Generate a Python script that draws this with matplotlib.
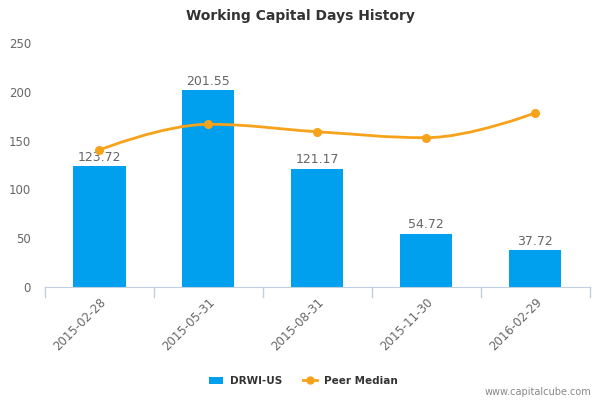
import matplotlib
matplotlib.use("Agg")
import matplotlib.pyplot as plt
from matplotlib.path import Path
from matplotlib.patches import PathPatch
from matplotlib.lines import Line2D
from matplotlib.patches import Patch

categories = ["2015-02-28", "2015-05-31", "2015-08-31", "2015-11-30", "2016-02-29"]
drwi_values = [123.72, 201.55, 121.17, 54.72, 37.72]
peer_median = [140.4, 166.7, 159.1, 153.0, 178.3]
yticks = [0, 50, 100, 150, 200, 250]

bar_color = "#00A0EE"
line_color = "#F7A21B"
text_grey = "#666666"

fig = plt.figure(figsize=(6, 4), dpi=100)
ax = fig.add_axes([0.075, 0.2825, 0.9075, 0.61])

x = list(range(len(categories)))
ax.bar(x, drwi_values, width=0.48, color=bar_color, zorder=2)
for xi, v in zip(x, drwi_values):
    ax.text(xi, v + 2.5, f"{v:.2f}", ha="center", va="bottom", fontsize=9, color=text_grey)

# Highcharts-style spline through peer median points
def spline_path(xs, ys, smoothing=1.5):
    denom = smoothing + 1
    n = len(xs)
    lc = [None] * n
    rc = [None] * n
    for i in range(n):
        if 0 < i < n - 1:
            px, py = xs[i], ys[i]
            lx, ly = xs[i - 1], ys[i - 1]
            nx, ny = xs[i + 1], ys[i + 1]
            lcx = (smoothing * px + lx) / denom
            lcy = (smoothing * py + ly) / denom
            rcx = (smoothing * px + nx) / denom
            rcy = (smoothing * py + ny) / denom
            corr = 0
            if rcx != lcx:
                corr = (rcy - lcy) * (rcx - px) / (rcx - lcx) + py - rcy
            lcy += corr
            rcy += corr
            if lcy > ly and lcy > py:
                lcy = max(ly, py); rcy = 2 * py - lcy
            elif lcy < ly and lcy < py:
                lcy = min(ly, py); rcy = 2 * py - lcy
            if rcy > ny and rcy > py:
                rcy = max(ny, py); lcy = 2 * py - rcy
            elif rcy < ny and rcy < py:
                rcy = min(ny, py); lcy = 2 * py - rcy
            lc[i] = (lcx, lcy)
            rc[i] = (rcx, rcy)
    verts = [(xs[0], ys[0])]
    codes = [Path.MOVETO]
    for i in range(1, n):
        c1 = rc[i - 1] if rc[i - 1] is not None else (xs[i - 1], ys[i - 1])
        c2 = lc[i] if lc[i] is not None else (xs[i], ys[i])
        verts += [c1, c2, (xs[i], ys[i])]
        codes += [Path.CURVE4] * 3
    return Path(verts, codes)

path = spline_path(x, peer_median)
ax.add_patch(PathPatch(path, facecolor="none", edgecolor=line_color, lw=2, zorder=3))
ax.plot(x, peer_median, "o", color=line_color, markersize=5.5, zorder=4)

ax.set_xlim(-0.5, len(categories) - 0.5)
ax.set_ylim(0, 250)
ax.set_yticks(yticks)
ax.set_yticklabels([str(t) for t in yticks], color=text_grey, fontsize=8.5)
ax.tick_params(axis="y", length=0, pad=10)
ax.set_xticks(x)
ax.set_xticklabels(categories, rotation=45, ha="right", rotation_mode="anchor",
                   color=text_grey, fontsize=8.5)
ax.tick_params(axis="x", length=0, pad=6)
# category boundary tick marks
for b in [i - 0.5 for i in range(len(categories) + 1)]:
    ax.plot([b, b], [0, -10], color="#C0D0E0", lw=1, clip_on=False, zorder=1)

for s in ["top", "right", "left"]:
    ax.spines[s].set_visible(False)
ax.spines["bottom"].set_color("#C0D0E0")

fig.text(0.5, 0.96, "Working Capital Days History", ha="center", va="center",
         fontsize=10, fontweight="bold", color="#333333")

handles = [Patch(facecolor=bar_color, edgecolor="none"),
           Line2D([0], [0], color=line_color, lw=2, marker="o", markersize=5)]
leg = fig.legend(handles, ["DRWI-US", "Peer Median"], loc="center", bbox_to_anchor=(0.505, 0.048),
                 ncol=2, frameon=False, fontsize=7.5, handlelength=1.4, columnspacing=2.0,
                 handletextpad=0.6)
for t in leg.get_texts():
    t.set_fontweight("bold")
    t.set_color("#333333")

fig.text(0.985, 0.02, "www.capitalcube.com", ha="right", va="center", fontsize=7, color="#888888")

fig.savefig("out.png", dpi=100)
